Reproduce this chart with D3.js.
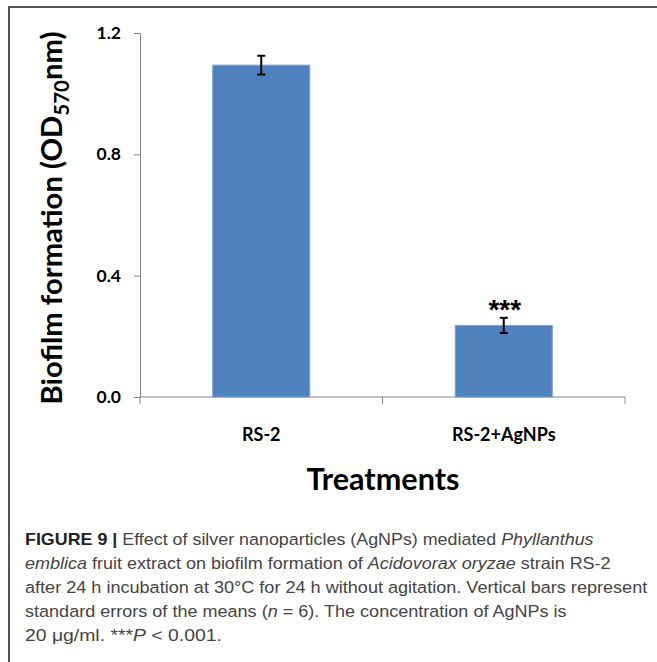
<!DOCTYPE html>
<html>
<head>
<meta charset="utf-8">
<script src="https://cdn.jsdelivr.net/npm/d3@7"></script>
<style>
	body { margin: 0; background: #fff; }
	svg { display: block; }
	.axis path, .axis line { stroke: #868686; }
	.lab { font-family: Lato, "Open Sans", sans-serif; font-weight: bold; fill: #000; }
	.cap { font-family: "Liberation Sans", Arial, sans-serif; fill: #444; font-size: 16.5px; }
</style>
</head>
<body>
<div id="graphic"></div>
<script>
// data
const categories = ['RS-2', 'RS-2+AgNPs'];
const values = [1.094, 0.236];
const errors = [0.031, 0.025];
const signif = ['', '***'];
const yTicks = [0, 0.4, 0.8, 1.2];

// caption lines, each an array of [text, style]
const captionLines = [
	[['FIGURE 9 | ', 'b'], ['Effect of silver nanoparticles (AgNPs) mediated ', ''], ['Phyllanthus', 'i']],
	[['emblica', 'i'], [' fruit extract on biofilm formation of ', ''], ['Acidovorax oryzae', 'i'], [' strain RS-2', '']],
	[['after 24 h incubation at 30°C for 24 h without agitation. Vertical bars represent', '']],
	[['standard errors of the means (', ''], ['n', 'i'], [' = 6). The concentration of AgNPs is', '']],
	[['20 μg/ml. ***', ''], ['P', 'i'], [' < 0.001.', '']]
];
const captionEnds = [594, 611, 648, 567, 222];

const W = 657, H = 662;
const margin = { top: 33, right: 32, bottom: 265, left: 140 };
const width = W - margin.left - margin.right;
const height = H - margin.top - margin.bottom;

const svg = d3.select('#graphic').append('svg')
	.attr('width', W)
	.attr('height', H);

// frame (only top and left edges are visible)
svg.append('path')
	.attr('d', `M9,${H} V7 H${W}`)
	.attr('fill', 'none')
	.attr('stroke', '#555')
	.attr('stroke-width', 2);

const g = svg.append('g').attr('transform', `translate(${margin.left},${margin.top})`);

const x = d3.scaleBand()
	.domain(categories)
	.range([0, width])
	.paddingInner(0.6)
	.paddingOuter(0.3);

const y = d3.scaleLinear()
	.domain([0, 1.2])
	.range([height, 0]);

// y axis
const yAxis = g.append('g')
	.attr('class', 'axis')
	.call(d3.axisLeft(y).tickValues(yTicks).tickSize(6).tickFormat(d3.format('.1f')));
yAxis.selectAll('text')
	.attr('class', 'lab')
	.style('font-size', '17.5px')
	.attr('x', -19);

// x axis: baseline plus Excel-style boundary ticks
g.append('line')
	.attr('x1', 0).attr('x2', width)
	.attr('y1', height).attr('y2', height)
	.attr('stroke', '#868686');
const bounds = [0].concat(categories.map((c) => x(c) + x.bandwidth() + x.step() * x.paddingInner() / 2));
bounds[bounds.length - 1] = width;
g.selectAll('.xtick')
	.data(bounds)
	.join('line')
	.attr('class', 'xtick')
	.attr('x1', (d) => d).attr('x2', (d) => d)
	.attr('y1', height).attr('y2', height + 7)
	.attr('stroke', '#868686');

// bars
g.selectAll('.bar')
	.data(categories)
	.join('rect')
	.attr('class', 'bar')
	.attr('x', (d) => x(d))
	.attr('width', x.bandwidth())
	.attr('y', (d, i) => y(values[i]))
	.attr('height', (d, i) => height - y(values[i]))
	.attr('fill', '#4f81bd')
	.attr('stroke', '#7aa0d2')
	.attr('stroke-width', 1);

// error bars
categories.forEach(function (c, i) {
	const cx = x(c) + x.bandwidth() / 2;
	const top = y(values[i] + errors[i]);
	const bot = y(values[i] - errors[i]);
	const eb = g.append('g').attr('stroke', '#000').attr('stroke-width', 2);
	eb.append('line').attr('x1', cx).attr('x2', cx).attr('y1', top).attr('y2', bot);
	eb.append('line').attr('x1', cx - 4).attr('x2', cx + 4).attr('y1', top).attr('y2', top);
	eb.append('line').attr('x1', cx - 4).attr('x2', cx + 4).attr('y1', bot).attr('y2', bot);

	if (signif[i]) {
		g.append('text')
			.attr('x', cx + 1)
			.attr('y', top + 1)
			.attr('text-anchor', 'middle')
			.style('font-family', '"Liberation Sans", Arial, sans-serif')
			.style('font-weight', 'bold')
			.style('font-size', '28px')
			.text(signif[i]);
	}
});

// category labels
g.selectAll('.xlab')
	.data(categories)
	.join('text')
	.attr('class', 'lab')
	.attr('x', (d) => x(d) + x.bandwidth() / 2)
	.attr('y', 441 - margin.top)
	.attr('text-anchor', 'middle')
	.style('font-size', '18px')
	.text((d) => d);

// fit a text node to a target width by adjusting font size
function fitFont(sel, target) {
	const fs = parseFloat(sel.style('font-size'));
	const w = sel.node().getComputedTextLength();
	sel.style('font-size', (fs * target / w) + 'px');
}

// x title
svg.append('text')
	.attr('class', 'lab')
	.attr('x', 383)
	.attr('y', 490)
	.attr('text-anchor', 'middle')
	.style('font-size', '28px')
	.text('Treatments')
	.call(fitFont, 153);

// y title with subscript
const yt = svg.append('text')
	.attr('class', 'lab')
	.attr('transform', 'translate(62,218) rotate(-90)')
	.attr('text-anchor', 'middle')
	.style('font-size', '27px');
yt.append('tspan').text('Biofilm formation (OD');
yt.append('tspan').attr('dy', 7).style('font-size', '0.7em').text('570');
yt.append('tspan').attr('dy', -7).text('nm)');
yt.call(fitFont, 373);

// caption
captionLines.forEach(function (parts, i) {
	const t = svg.append('text')
		.attr('class', 'cap')
		.attr('x', 0)
		.attr('y', 0)
		.attr('xml:space', 'preserve');
	parts.forEach(([txt, st]) => {
		const ts = t.append('tspan').text(txt);
		if (st === 'b') ts.style('font-weight', 'bold').style('fill', '#222');
		if (st === 'i') ts.style('font-style', 'italic');
	});
	const w = t.node().getComputedTextLength();
	const sx = (captionEnds[i] - 25) / w;
	t.attr('transform', `translate(25,${545 + 24 * i}) scale(${sx},1)`);
});
</script>
</body>
</html>
